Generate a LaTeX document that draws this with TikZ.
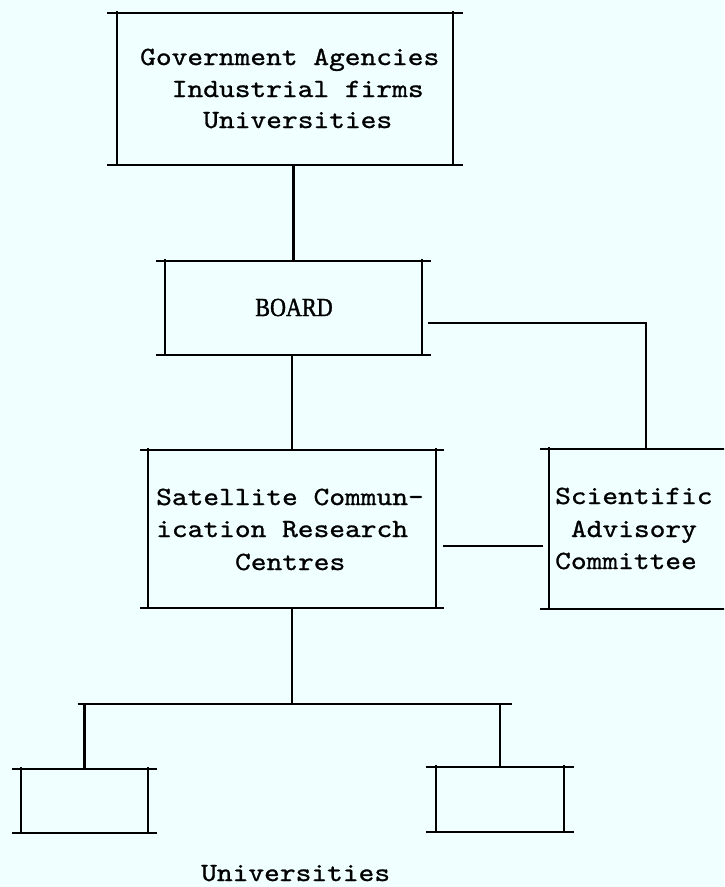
\documentclass[tikz,border=0pt]{standalone}
\usepackage{fontspec}
\newfontfamily\twfont[FakeStretch=1.14,FakeBold=1.0]{lmmono10-regular.otf}
\newfontfamily\boardfont[FakeStretch=0.85,FakeBold=1.4]{Liberation Serif}
\definecolor{paper}{HTML}{F0FFFF}
\tikzset{
  ln/.style={line width=2.2pt, line cap=butt},
  tw/.style={inner sep=0pt, font=\twfont\fontsize{26.3}{32}\selectfont},
  bx/.style={draw=none, inner sep=0pt, rectangle},
}
\begin{document}
\begin{tikzpicture}[x=1pt,y=-1pt]
\fill[paper] (0,0) rectangle (724,887);
\useasboundingbox (0,0) rectangle (724,887);
\clip (0,0) rectangle (724,887);

% boxes (invisible frames, drawn below with overhanging strokes)
\node[bx, minimum width=336pt, minimum height=152pt] (top) at (285,89) {};
\node[bx, minimum width=257pt, minimum height=94pt] (board) at (293.5,308) {};
\node[bx, minimum width=288pt, minimum height=158pt] (sat) at (292,529) {};
\node[bx, minimum width=191pt, minimum height=160pt] (sci) at (644.5,529) {};
\node[bx, minimum width=127pt, minimum height=64pt] (lb) at (84.5,801) {};
\node[bx, minimum width=128pt, minimum height=65pt] (rb) at (500,799.5) {};

% box strokes
\foreach \b/\o in {top/9.5, board/8.5, sat/8, sci/9, lb/9, rb/10}{
  \draw[ln] ([xshift=-\o]\b.north west) -- ([xshift=\o]\b.north east);
  \draw[ln] ([xshift=-\o]\b.south west) -- ([xshift=\o]\b.south east);
  \draw[ln] ([yshift=2]\b.north west) -- (\b.south west);
  \draw[ln] ([yshift=2]\b.north east) -- (\b.south east);
}

% texts
\node[tw, anchor=base west] (g1) at (140,65) {Government Agencies};
\node[tw, anchor=base west] (g2) at (171.6,97) {Industrial firms};
\node[tw, anchor=base west] (g3) at (203.1,128) {Universities};
\node[inner sep=0pt, anchor=base, font=\boardfont\fontsize{26}{30}\selectfont] (bt) at (294,316) {BOARD};
\node[tw, anchor=base west] (s1) at (156,505) {Satellite Commun-};
\node[tw, anchor=base west] (s2) at (156,537) {ication Research};
\node[tw, anchor=base west] (s3) at (234.9,570) {Centres};
\node[tw, anchor=base west] (c1) at (555,504) {Scientific};
\node[tw, anchor=base west] (c2) at (570.8,537) {Advisory};
\node[tw, anchor=base west] (c3) at (555,569) {Committee};
\node[tw, anchor=base west] (uni) at (201,881) {Universities};

% connectors
\draw[ln] (board.north |- top.south) -- (board.north);
\draw[ln] (sat.north |- board.south) -- (sat.north);
\coordinate (bo) at ([xshift=6,yshift=-15]board.east);
\draw[ln] (bo) -| ([xshift=1.5]sci.north);
\coordinate (so) at ([xshift=7,yshift=-17]sat.east);
\draw[ln] (so) -- ([xshift=-6]so -| sci.west);
\coordinate (br) at (292,704);
\draw[ln] (sat.south) -- (br);
\draw[ln] ([xshift=-7]lb.north |- br) -- ([xshift=12]rb.north |- br);
\draw[ln] (lb.north |- br) -- (lb.north);
\draw[ln] (rb.north |- br) -- (rb.north);
\end{tikzpicture}
\end{document}
